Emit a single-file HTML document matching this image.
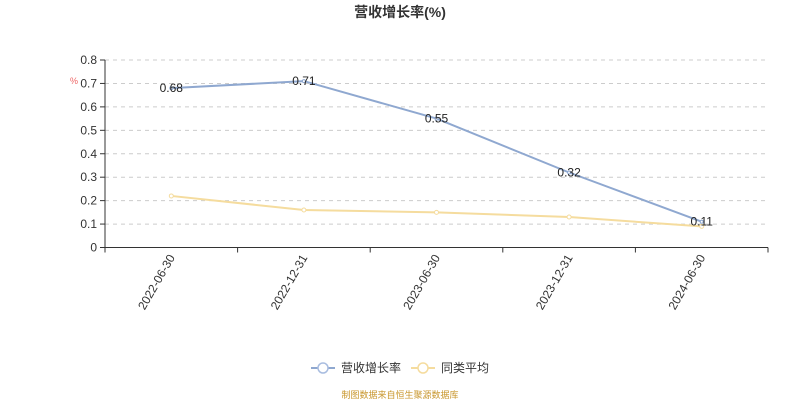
<!DOCTYPE html>
<html><head><meta charset="utf-8"><style>
body{margin:0;background:#fff;font-family:"Liberation Sans","Noto Sans CJK SC",sans-serif;}
svg text{font-family:"Liberation Sans","Noto Sans CJK SC",sans-serif;}
</style></head><body>
<svg id="c" width="800" height="400" xmlns="http://www.w3.org/2000/svg">
<text x="400" y="17" text-anchor="middle" font-size="14" font-weight="bold" fill="#333">营收增长率(%)</text>
<text x="74" y="84" text-anchor="middle" font-size="9" fill="#e66">%</text>
<g id="grid"></g><g id="axes"></g><g id="series"></g>
<g>
<g>
<line x1="311" y1="368" x2="335" y2="368" stroke="#8fa8d0" stroke-width="2"/>
<circle cx="323" cy="368" r="5" fill="#fff" stroke="#a9bde0" stroke-width="1.5"/>
<text x="341" y="372" font-size="12" fill="#333">营收增长率</text></g>
<g>
<line x1="411" y1="368" x2="435" y2="368" stroke="#f5dc9e" stroke-width="2"/>
<circle cx="423" cy="368" r="5" fill="#fff" stroke="#f5dc9e" stroke-width="1.5"/>
<text x="441" y="372" font-size="12" fill="#333">同类平均</text></g>
</g>
<text x="400" y="398" text-anchor="middle" font-size="9" fill="#c8962c">制图数据来自恒生聚源数据库</text>
</svg>
<script>
const categories=["2022-06-30","2022-12-31","2023-06-30","2023-12-31","2024-06-30"];
const revenueGrowth=[0.68,0.71,0.55,0.32,0.11];
const peerAverage=[0.22,0.16,0.15,0.13,0.09];
const yTicks=[0,0.1,0.2,0.3,0.4,0.5,0.6,0.7,0.8];
const NS="http://www.w3.org/2000/svg";
const L=105,R=768,T=60,B=247.5,yMax=0.8;
const bw=(R-L)/categories.length;
const xs=i=>L+bw*(i+0.5);
const ys=v=>B-(v/yMax)*(B-T);
function mk(tag,attrs,parent){const e=document.createElementNS(NS,tag);for(const k in attrs)e.setAttribute(k,attrs[k]);parent.appendChild(e);return e;}
const grid=document.getElementById('grid'),axes=document.getElementById('axes'),ser=document.getElementById('series');
yTicks.forEach(v=>{
  const y=ys(v);
  if(v>0){const g=mk('line',{x1:L,x2:R,y1:y,y2:y,stroke:'#ccc','stroke-dasharray':'4,4'},grid);
  
  }
  const tk=mk('line',{x1:L-5,x2:L,y1:y,y2:y,stroke:'#333'},axes);
  
  
  const t=mk('text',{x:L-8,y:y+4,'text-anchor':'end','font-size':12,fill:'#333'},axes);
  
  
  t.textContent=v===0?'0':v.toFixed(1);
});
const ya=mk('line',{x1:L,x2:L,y1:T,y2:B,stroke:'#333'},axes);


const xa=mk('line',{x1:L,x2:R,y1:B,y2:B,stroke:'#333'},axes);


for(let i=0;i<=categories.length;i++){const x=L+bw*i;
  const tk=mk('line',{x1:x,x2:x,y1:B,y2:B+5,stroke:'#333'},axes);
  
  }
categories.forEach((c,i)=>{const x=xs(i)+4,y=B+10;
  const t=mk('text',{x:x,y:y,'text-anchor':'end','font-size':12,fill:'#333',transform:`rotate(-60 ${x} ${y})`},axes);
  
  
  t.textContent=c;});
function drawSeries(vals,color,name,labels){
  const p=mk('polyline',{points:vals.map((v,i)=>xs(i)+','+ys(v)).join(' '),fill:'none',stroke:color,'stroke-width':2},ser);
  
  
  vals.forEach((v,i)=>{
    const c=mk('circle',{cx:xs(i),cy:ys(v),r:labels?1.5:2,fill:'#fff',stroke:color},ser);
    
    
    if(labels){const t=mk('text',{x:xs(i),y:ys(v)+4,'text-anchor':'middle','font-size':12,fill:'#222'},ser);
      
      
      t.textContent=v.toFixed(2);}
  });
}
drawSeries(peerAverage,'#f5dc9e','peer-average',false);
drawSeries(revenueGrowth,'#8fa8d0','revenue-growth',true);
</script>
</body></html>
